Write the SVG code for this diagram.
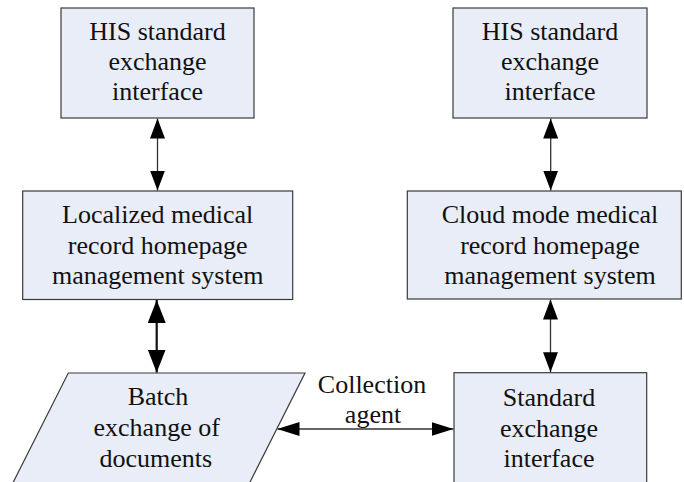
<svg xmlns="http://www.w3.org/2000/svg" width="684" height="482" viewBox="0 0 684 482">
<defs>
<style>
.box{fill:#E8EDF7;stroke:#3a3a3a;stroke-width:1.2}
.c{stroke:#333;stroke-width:1.3;fill:none}
.ck{stroke:#111;stroke-width:2.2;fill:none}
</style>
<marker id="ah" markerUnits="userSpaceOnUse" markerWidth="20" markerHeight="16" viewBox="0 0 20 16" refX="20" refY="8" orient="auto-start-reverse">
<path d="M0,0.5 L20,8 L0,15.5 z" fill="#000"/>
</marker>
<marker id="ahb" markerUnits="userSpaceOnUse" markerWidth="23" markerHeight="18" viewBox="0 0 23 18" refX="23" refY="9" orient="auto-start-reverse">
<path d="M0,0 L23,9 L0,18 z" fill="#000"/>
</marker>
<marker id="ahh" markerUnits="userSpaceOnUse" markerWidth="22" markerHeight="14" viewBox="0 0 22 14" refX="22" refY="7" orient="auto-start-reverse">
<path d="M0,0 L22,7 L0,14 z" fill="#000"/>
</marker>
</defs>
<rect width="684" height="482" fill="#fff"/>

<g id="his-left">
<rect class="box" x="61" y="8" width="193" height="110"/>
<text font-family="Liberation Serif" font-size="26" fill="#111" text-anchor="middle" x="157.5" y="39.5">HIS standard</text>
<text font-family="Liberation Serif" font-size="26" fill="#111" text-anchor="middle" x="157.5" y="69.5">exchange</text>
<text font-family="Liberation Serif" font-size="26" fill="#111" text-anchor="middle" x="157.5" y="99.5">interface</text>
</g>

<g id="his-right">
<rect class="box" x="453" y="8" width="194" height="110"/>
<text font-family="Liberation Serif" font-size="26" fill="#111" text-anchor="middle" x="550" y="39.5">HIS standard</text>
<text font-family="Liberation Serif" font-size="26" fill="#111" text-anchor="middle" x="550" y="69.5">exchange</text>
<text font-family="Liberation Serif" font-size="26" fill="#111" text-anchor="middle" x="550" y="99.5">interface</text>
</g>

<g id="localized">
<rect class="box" x="22.7" y="191" width="270" height="108.5"/>
<text font-family="Liberation Serif" font-size="26" fill="#111" text-anchor="middle" x="157.7" y="223">Localized medical</text>
<text font-family="Liberation Serif" font-size="26" fill="#111" text-anchor="middle" x="157.7" y="253.5">record homepage</text>
<text font-family="Liberation Serif" font-size="26" fill="#111" text-anchor="middle" x="157.7" y="283.5">management system</text>
</g>

<g id="cloud">
<rect class="box" x="407.3" y="191" width="274" height="108"/>
<text font-family="Liberation Serif" font-size="26" fill="#111" text-anchor="middle" x="550" y="223">Cloud mode medical</text>
<text font-family="Liberation Serif" font-size="26" fill="#111" text-anchor="middle" x="550" y="253.5">record homepage</text>
<text font-family="Liberation Serif" font-size="26" fill="#111" text-anchor="middle" x="550" y="284">management system</text>
</g>

<g id="batch">
<polygon class="box" points="68.3,373 305,373 246,490 9.3,490"/>
<text font-family="Liberation Serif" font-size="26" fill="#111" text-anchor="middle" x="158" y="405">Batch</text>
<text font-family="Liberation Serif" font-size="26" fill="#111" text-anchor="middle" x="156.7" y="435.7">exchange of</text>
<text font-family="Liberation Serif" font-size="26" fill="#111" text-anchor="middle" x="155.8" y="466.7">documents</text>
</g>

<g id="standard">
<rect class="box" x="454" y="372.7" width="192.7" height="120"/>
<text font-family="Liberation Serif" font-size="26" fill="#111" text-anchor="middle" x="549" y="406">Standard</text>
<text font-family="Liberation Serif" font-size="26" fill="#111" text-anchor="middle" x="549" y="436.5">exchange</text>
<text font-family="Liberation Serif" font-size="26" fill="#111" text-anchor="middle" x="549" y="467">interface</text>
</g>

<g id="connectors">
<line class="c" x1="157.5" y1="118.5" x2="157.5" y2="190.5" marker-start="url(#ah)" marker-end="url(#ah)"/>
<line class="c" x1="550.7" y1="118.5" x2="550.7" y2="190.5" marker-start="url(#ah)" marker-end="url(#ah)"/>
<line class="ck" x1="156.7" y1="300" x2="156.7" y2="372.5" marker-start="url(#ahb)" marker-end="url(#ahb)"/>
<line class="c" x1="550.5" y1="299.5" x2="550.5" y2="372.2" marker-start="url(#ah)" marker-end="url(#ah)"/>
<line class="c" x1="277.5" y1="429" x2="453.5" y2="429" marker-start="url(#ahh)" marker-end="url(#ahh)"/>
<text font-family="Liberation Serif" font-size="26" fill="#111" text-anchor="middle" x="372" y="393">Collection</text>
<text font-family="Liberation Serif" font-size="26" fill="#111" text-anchor="middle" x="373" y="423">agent</text>
</g>
</svg>
